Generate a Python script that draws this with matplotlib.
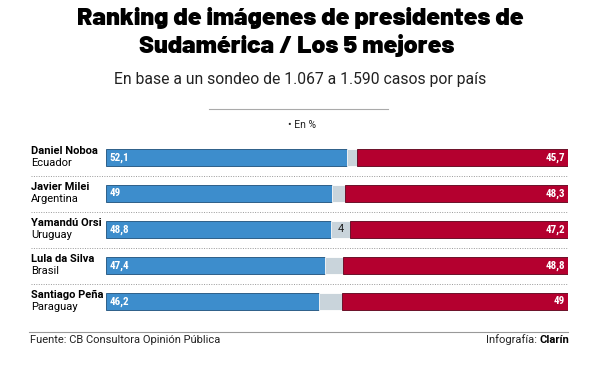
import matplotlib.pyplot as plt
import numpy as np

names = ["Daniel Noboa", "Javier Milei", "Yamandú Orsi", "Lula da Silva", "Santiago Peña"]
countries = ["Ecuador", "Argentina", "Uruguay", "Brasil", "Paraguay"]
positive = [52.1, 49, 48.8, 47.4, 46.2]
negative = [45.7, 48.3, 47.2, 48.8, 49]
nsnc = [2.2, 2.7, 4, 3.8, 4.8]

def fmt(v):
    return str(v).replace(".", ",") if v != int(v) else str(int(v))

W, H = 591, 383
fig = plt.figure(figsize=(W / 100, H / 100), dpi=100)
fig.patch.set_facecolor("white")

title_font = ["Barlow", "DejaVu Sans"]
body = ["Roboto", "DejaVu Sans"]
cond = ["Roboto Condensed", "DejaVu Sans"]

def px(x, y):
    return x / W, 1 - y / H

fig.text(*px(300, 25), "Ranking de imágenes de presidentes de", ha="center", va="baseline",
         fontsize=18, fontweight=900, family=title_font)
fig.text(*px(297, 53), "Sudamérica / Los 5 mejores", ha="center", va="baseline",
         fontsize=18, fontweight=900, family=title_font)
fig.text(*px(300, 84), "En base a un sondeo de 1.067 a 1.590 casos por país", ha="center", va="baseline",
         fontsize=11.3, family=body, color="#222222")
fig.add_artist(plt.Line2D([209 / W, 388 / W], [1 - 109 / H] * 2, color="#aaaaaa", lw=0.8))
fig.text(*px(302, 125), "• En %", ha="center", va="center", fontsize=7.5, family=body, color="#222222")

# bar axes
ax = fig.add_axes([106 / W, 1 - 319.5 / H, (568 - 106) / W, (319.5 - 139.5) / H])
ax.set_xlim(0, 100)
ax.set_ylim(4.5, -0.5)
ax.axis("off")
ypos = np.arange(len(names))
pos = np.array(positive)
mid = np.array(nsnc)
neg = np.array(negative)
bh = 0.47
ax.barh(ypos, pos, height=bh, color="#3d8dcc", edgecolor="#1d4f7a", lw=0.6)
ax.barh(ypos, mid, left=pos, height=bh, color="#c9d4db", edgecolor="white", lw=0.6)
ax.barh(ypos, neg, left=pos + mid, height=bh, color="#b4002f", edgecolor="#5a0018", lw=0.6)
for i in range(len(names)):
    ax.text(0.8, ypos[i], fmt(positive[i]), color="white", fontsize=8, fontweight="bold",
            va="center", ha="left", family=cond)
    ax.text(99.3, ypos[i], fmt(negative[i]), color="white", fontsize=8, fontweight="bold",
            va="center", ha="right", family=cond)
    if nsnc[i] == int(nsnc[i]):
        ax.text(pos[i] + mid[i] / 2, ypos[i], fmt(nsnc[i]), color="#222222", fontsize=8,
                va="center", ha="center", family=body)

name_base = [154, 190, 226, 262, 298]
for i in range(len(names)):
    fig.text(*px(31, name_base[i]), names[i], ha="left", va="baseline", fontsize=8,
             fontweight="bold", family=body)
    fig.text(*px(31, name_base[i] + 12.5), countries[i], ha="left", va="baseline", fontsize=8,
             family=body)
for y in [176, 212, 248, 284]:
    fig.add_artist(plt.Line2D([31 / W, 568 / W], [1 - y / H] * 2, color="#999999", lw=0.7,
                              ls=(0, (1, 1.5))))

fig.add_artist(plt.Line2D([29 / W, 568 / W], [1 - 332 / H] * 2, color="#999999", lw=0.8))
fig.text(*px(30, 343), "Fuente: CB Consultora Opinión Pública", ha="left", va="baseline",
         fontsize=8, family=body, color="#222222")
credit = fig.text(*px(569, 343), "Clarín", ha="right", va="baseline", fontsize=8, family=body,
                  fontweight="bold")
fig.canvas.draw()
bb = credit.get_window_extent()
fig.text(bb.x0 / W, 1 - 343 / H, "Infografía: ", ha="right", va="baseline", fontsize=8,
         family=body, color="#222222")

fig.savefig("out.png", dpi=100)
